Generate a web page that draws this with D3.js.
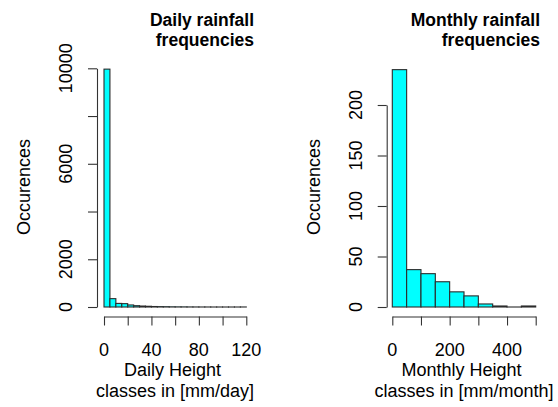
<!DOCTYPE html>
<html><head><meta charset="utf-8">
<script src="https://cdn.jsdelivr.net/npm/d3@7"></script>
<style>body{margin:0;background:#fff}svg{display:block}text{font-family:"Liberation Sans",Arial,sans-serif;fill:#000}</style>
</head><body>
<script>
// Daily histogram: bins of 5 mm/day from 0 to 120
const dailyBreaks = d3.range(0, 121, 5);
const dailyCounts = [9965, 350, 150, 140, 85, 55, 40, 30, 20, 15, 12, 8, 6, 5, 3, 2, 1, 1, 0, 0, 0, 0, 0, 1];
const dailyXTicks = [0, 20, 40, 60, 80, 100, 120];
const dailyXLabels = [0, 40, 80, 120];
const dailyYTicks = [0, 2000, 4000, 6000, 8000, 10000];
const dailyYLabels = [0, 2000, 6000, 10000];

// Monthly histogram: bins of 50 mm/month from 0 to 500
const monthlyBreaks = d3.range(0, 501, 50);
const monthlyCounts = [235, 37, 33, 25, 15, 11, 3, 1, 0, 1];
const monthlyXTicks = [0, 100, 200, 300, 400, 500];
const monthlyXLabels = [0, 200, 400];
const monthlyYTicks = [0, 50, 100, 150, 200];
const monthlyYLabels = [0, 50, 100, 150, 200];

const titles = [["Daily rainfall", "frequencies"], ["Monthly rainfall", "frequencies"]];
const xTitles = [["Daily Height ", "classes in [mm/day]"], ["Monthly Height ", "classes in [mm/month]"]];
const yTitle = "Occurences";

const W = 558, H = 407, FS = 18, TFS = 17.5;
const svg = d3.select("body").append("svg").attr("width", W).attr("height", H);

function panel(cfg) {
  const x = d3.scaleLinear().domain(cfg.xDomain).range(cfg.xRange);
  const y = d3.scaleLinear().domain(cfg.yDomain).range(cfg.yRange);
  const g = svg.append("g");
  const bins = cfg.counts.map((c, i) => ({x0: cfg.breaks[i], x1: cfg.breaks[i + 1], c}));
  g.selectAll("rect").data(bins).join("rect")
    .attr("x", d => x(d.x0)).attr("width", d => x(d.x1) - x(d.x0))
    .attr("y", d => y(d.c)).attr("height", d => Math.max(y(0) - y(d.c), 0.01))
    .attr("fill", "#00ffff").attr("stroke", "#2b2b2b").attr("stroke-width", 1.1);

  // x axis
  const xa = g.append("g").attr("transform", `translate(0,${cfg.xAxisY})`)
    .call(d3.axisBottom(x).tickValues(cfg.xTicks).tickSize(9).tickSizeOuter(0).tickFormat(() => ""));
  xa.selectAll("path,line").attr("stroke", "#333").attr("stroke-width", 1.1);
  g.selectAll(".xl").data(cfg.xLabels).join("text").attr("class", "xl")
    .attr("x", d => x(d)).attr("y", 355.5).attr("text-anchor", "middle")
    .attr("font-size", FS).text(d => d);

  // y axis
  const ya = g.append("g").attr("transform", `translate(${cfg.yAxisX},0)`)
    .call(d3.axisLeft(y).tickValues(cfg.yTicks).tickSize(9).tickSizeOuter(0).tickFormat(() => ""));
  ya.selectAll("path,line").attr("stroke", "#333").attr("stroke-width", 1.1);
  g.selectAll(".yl").data(cfg.yLabels).join("text").attr("class", "yl")
    .attr("transform", d => `translate(${cfg.yAxisX - 25},${y(d)}) rotate(-90)`)
    .attr("text-anchor", "middle").attr("font-size", FS).text(d => d);

  g.append("text").attr("transform", `translate(${cfg.yAxisX - 67},187) rotate(-90)`)
    .attr("text-anchor", "middle").attr("font-size", FS).text(yTitle);

  g.selectAll(".xt").data(cfg.xTitle).join("text").attr("class", "xt")
    .attr("x", cfg.xTitleX).attr("y", (d, i) => 376 + i * 20.5)
    .attr("text-anchor", "middle").attr("font-size", FS).style("white-space", "pre").text(d => d);

  g.selectAll(".mt").data(cfg.title).join("text").attr("class", "mt")
    .attr("x", cfg.titleX).attr("y", (d, i) => 25.5 + i * 20)
    .attr("text-anchor", "end").attr("font-size", TFS).attr("font-weight", "bold").text(d => d);
}

panel({
  breaks: dailyBreaks, counts: dailyCounts,
  xDomain: [0, 120], xRange: [104, 246.3], yDomain: [0, 10000], yRange: [307, 68.3],
  xTicks: dailyXTicks, xLabels: dailyXLabels, yTicks: dailyYTicks, yLabels: dailyYLabels,
  xAxisY: 316.5, yAxisX: 97, xTitle: xTitles[0], xTitleX: 175, title: titles[0], titleX: 254
});
panel({
  breaks: monthlyBreaks, counts: monthlyCounts,
  xDomain: [0, 500], xRange: [392.3, 535.7], yDomain: [0, 200], yRange: [307, 105],
  xTicks: monthlyXTicks, xLabels: monthlyXLabels, yTicks: monthlyYTicks, yLabels: monthlyYLabels,
  xAxisY: 316.5, yAxisX: 386.7, xTitle: xTitles[1], xTitleX: 464, title: titles[1], titleX: 540
});
</script>
</body></html>
